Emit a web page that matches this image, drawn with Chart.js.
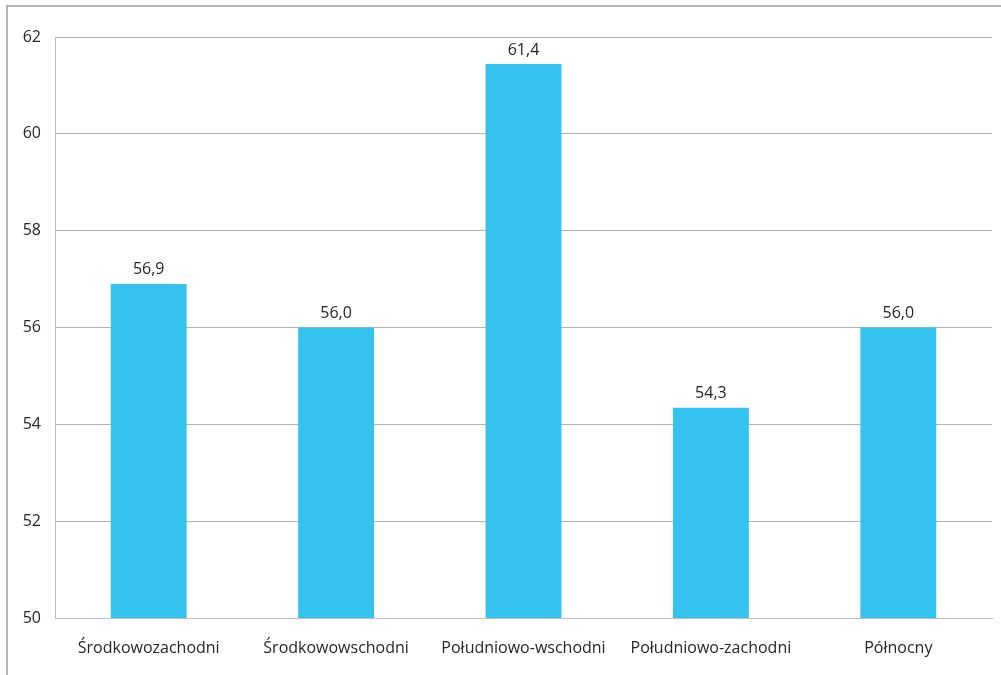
<!DOCTYPE html>
<html>
<head>
<meta charset="utf-8">
<script src="https://cdn.jsdelivr.net/npm/chart.js@4/dist/chart.umd.min.js"></script>
<style>
	body { margin: 0; background: #ffffff; }
	#wrap { position: relative; width: 1001px; height: 675px; overflow: hidden; }
	#frame { position: absolute; left: 6px; top: 5px; width: 1100px; height: 800px; border-left: 2px solid #b4b4b4; border-top: 2px solid #b4b4b4; }
	canvas { position: absolute; left: 0; top: 0; }
</style>
</head>
<body>
<div id="wrap">
	<div id="frame"></div>
	<canvas id="chart" width="1001" height="675"></canvas>
</div>
<script>
const categories = ["Środkowozachodni", "Środkowowschodni", "Południowo-wschodni", "Południowo-zachodni", "Północny"]
const values = [56.9, 56.0, 61.44, 54.34, 56.0]
const y_ticks = [50, 52, 54, 56, 58, 60, 62]

const font_family = "'Open Sans', sans-serif"
const text_color = "#262626"

// Draw value labels above each bar, comma as decimal separator
const value_labels = {
	id: "value_labels",
	afterDatasetsDraw(chart) {
		const ctx = chart.ctx
		const meta = chart.getDatasetMeta(0)
		ctx.save()
		ctx.font = "16px " + font_family
		ctx.fillStyle = text_color
		ctx.textAlign = "center"
		ctx.textBaseline = "bottom"
		meta.data.forEach((bar, i) => {
			const text = values[i].toFixed(1).replace(".", ",")
			ctx.fillText(text, bar.x, bar.y - 6)
		})
		ctx.restore()
	}
}

new Chart(document.getElementById("chart"), {
	type: "bar",
	data: {
		labels: categories,
		datasets: [{
			data: values,
			backgroundColor: "#33c3ee",
			categoryPercentage: 1,
			barPercentage: 0.405
		}]
	},
	options: {
		responsive: false,
		animation: false,
		layout: {
			padding: { left: 0, right: 9, top: 37, bottom: 0 }
		},
		plugins: {
			legend: { display: false },
			tooltip: { enabled: false }
		},
		scales: {
			x: {
				grid: { display: false, drawTicks: false },
				border: { color: "#bdbdbd", width: 1 },
				ticks: {
					color: text_color,
					font: { family: font_family, size: 16 },
					padding: 21,
					maxRotation: 0
				},
				afterFit(scale) {
					scale.height = 57
				}
			},
			y: {
				min: 50,
				max: 62,
				afterBuildTicks(scale) {
					scale.ticks = y_ticks.map(v => ({ value: v }))
				},
				grid: { color: "#b3b3b3", drawTicks: false },
				border: { color: "#bdbdbd", width: 1 },
				ticks: {
					color: text_color,
					font: { family: font_family, size: 16 },
					padding: 14
				},
				afterFit(scale) {
					scale.width = 55
				}
			}
		}
	},
	plugins: [value_labels]
})
</script>
</body>
</html>
